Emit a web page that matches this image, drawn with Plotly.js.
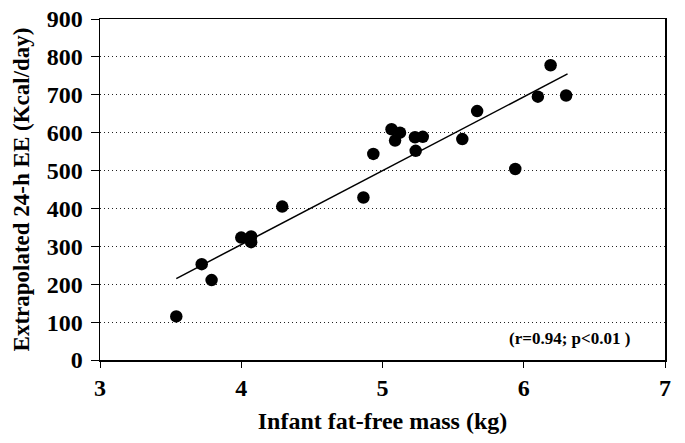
<!DOCTYPE html>
<html>
<head>
<meta charset="utf-8">
<script src="https://cdn.plot.ly/plotly-3.0.1.min.js"></script>
<style>html,body{margin:0;padding:0;background:#fff;}#chart{width:685px;height:443px;}</style>
</head>
<body>
<div id="chart"></div>
<script>
var ffm = [3.54, 3.72, 3.79, 4.00, 4.07, 4.07, 4.29, 4.865, 4.935, 5.064, 5.124, 5.089, 5.23, 5.285, 5.235, 5.565, 5.67, 5.94, 6.10, 6.19, 6.30];
var ee  = [115, 253, 211, 323, 326, 311, 405, 429, 544, 609, 600, 579, 588, 589, 552, 583, 657, 504, 695, 778, 698];
var fitX = [3.54, 6.31];
var fitY = [215, 755];
var xTicks = [3, 4, 5, 6, 7];
var yTicks = [0, 100, 200, 300, 400, 500, 600, 700, 800, 900];

var serif = 'Liberation Serif';
var data = [
  {x: fitX, y: fitY, mode: 'lines', type: 'scatter', line: {color: '#000', width: 1.5}, hoverinfo: 'skip'},
  {x: ffm, y: ee, mode: 'markers', type: 'scatter', marker: {color: '#000', size: 12.5}}
];
var layout = {
  width: 685, height: 443,
  margin: {l: 100, r: 20, t: 19, b: 83},
  paper_bgcolor: '#fff', plot_bgcolor: '#fff',
  showlegend: false,
  font: {family: serif, color: '#000', size: 22, weight: 'bold'},
  xaxis: {
    range: [3, 7], tickmode: 'array', tickvals: xTicks, ticktext: xTicks.map(String),
    showgrid: false, zeroline: false,
    showline: true, linecolor: '#000', linewidth: 1.5, mirror: true,
    ticks: 'outside', ticklen: 6, tickcolor: '#000', tickwidth: 1,
    ticklabelstandoff: 0,
    tickfont: {family: serif, size: 24, color: '#000', weight: 'bold'},
    title: {text: 'Infant fat-free mass (kg)', font: {family: serif, size: 24, color: '#000', weight: 'bold'}, standoff: 12}
  },
  yaxis: {
    range: [0, 900], tickmode: 'array', tickvals: yTicks, ticktext: yTicks.map(String),
    showgrid: true, gridcolor: '#222', griddash: '1px,3px', gridwidth: 1,
    zeroline: false,
    showline: true, linecolor: '#000', linewidth: 1.5, mirror: true,
    ticks: 'outside', ticklen: 8, tickcolor: '#000', tickwidth: 1,
    ticklabelstandoff: 3,
    tickfont: {family: serif, size: 24, color: '#000', weight: 'bold'},
    title: {text: 'Extrapolated 24-h EE (Kcal/day)', font: {family: serif, size: 23, color: '#000', weight: 'bold'}, standoff: 10}
  },
  annotations: [{
    text: '(r=0.94; p<0.01 )', xref: 'paper', yref: 'paper', x: 0.942, y: 0.03,
    xanchor: 'right', yanchor: 'bottom', showarrow: false,
    font: {family: serif, size: 17, color: '#000', weight: 'bold'}
  }]
};
Plotly.newPlot('chart', data, layout, {displayModeBar: false, staticPlot: true});
</script>
</body>
</html>
